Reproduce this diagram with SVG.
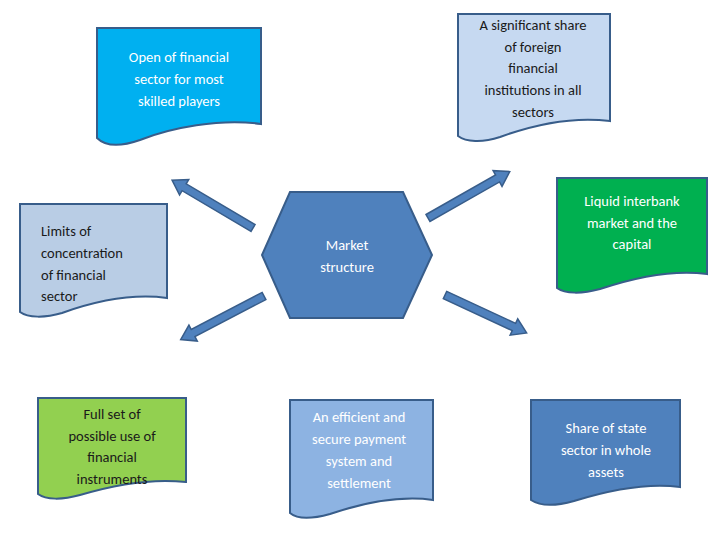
<svg xmlns="http://www.w3.org/2000/svg" width="720" height="540" viewBox="0 0 720 540">
<defs><style>
.d{stroke:#385d8a;stroke-width:2}
.t{font-family:Calibri,"Liberation Sans",sans-serif;font-size:14.5px;text-anchor:middle}
.w{fill:#fff}.k{fill:#1a1a1a}
.a{fill:#4f81bd;stroke:#385d8a;stroke-width:1.5}
</style></defs>
<rect width="720" height="540" fill="#fff"/>
<g id="n1"><path class="d" fill="#00b0f0" d="M97,28 H261 V124 C220,118 170,128 140,140 C120,147 105,146 97,138 Z"/>
<text class="t w" x="179" y="62">Open of financial</text><text class="t w" x="179" y="84">sector for most</text><text class="t w" x="179" y="106">skilled players</text></g>
<g id="n2"><path class="d" fill="#c6d9f1" d="M458,14 H610 V121 C570,116 530,126 500,137 C482,143 466,142 458,136 Z"/>
<text class="t k" x="533" y="30">A significant share</text><text class="t k" x="533" y="52">of foreign</text><text class="t k" x="533" y="73">financial</text><text class="t k" x="533" y="95">institutions in all</text><text class="t k" x="533" y="117">sectors</text></g>
<g id="n3"><path class="d" fill="#b9cde5" d="M20,204 H167 V298 C130,293 90,303 62,313 C45,318 28,318 20,312 Z"/>
<text class="t k" x="41" y="236" text-anchor="start" style="text-anchor:start">Limits of</text><text class="t k" x="41" y="258" style="text-anchor:start">concentration</text><text class="t k" x="41" y="280" style="text-anchor:start">of financial</text><text class="t k" x="41" y="301" style="text-anchor:start">sector</text></g>
<g id="n4"><path class="d" fill="#00b050" d="M557,178 H707 V274 C670,269 630,279 600,289 C582,294 565,294 557,288 Z"/>
<text class="t w" x="632" y="206">Liquid interbank</text><text class="t w" x="632" y="228">market and the</text><text class="t w" x="632" y="249">capital</text></g>
<g id="n5"><polygon class="d" fill="#4f81bd" points="290,192 403,192 432,255 403,318 290,318 262,255"/>
<text class="t w" x="347" y="250">Market</text><text class="t w" x="347" y="272">structure</text></g>
<g id="n6"><path class="d" fill="#92d050" d="M38,398 H186 V482 C150,478 110,486 80,495 C62,500 46,500 38,494 Z"/>
<text class="t k" x="112" y="419">Full set of</text><text class="t k" x="112" y="441">possible use of</text><text class="t k" x="112" y="462">financial</text><text class="t k" x="112" y="484">instruments</text></g>
<g id="n7"><path class="d" fill="#8db3e2" d="M290,400 H433 V500 C397,495 357,505 330,514 C312,519 297,519 290,513 Z"/>
<text class="t w" x="359" y="422">An efficient and</text><text class="t w" x="359" y="444">secure payment</text><text class="t w" x="359" y="466">system and</text><text class="t w" x="359" y="488">settlement</text></g>
<g id="n8"><path class="d" fill="#4f81bd" d="M531,400 H680 V487 C643,482 603,492 574,501 C556,506 540,506 531,500 Z"/>
<text class="t w" x="606" y="433">Share of state</text><text class="t w" x="606" y="455">sector in whole</text><text class="t w" x="606" y="477">assets</text></g>
<g id="connectors">
<polygon class="a" transform="translate(253,228) rotate(-149.4)" points="0,-4 80,-4 80,-9 94,0 80,9 80,4 0,4"/>
<polygon class="a" transform="translate(428,218) rotate(-29.6)" points="0,-4 80,-4 80,-9 94,0 80,9 80,4 0,4"/>
<polygon class="a" transform="translate(264,296) rotate(152.4)" points="0,-4 80,-4 80,-9 94,0 80,9 80,4 0,4"/>
<polygon class="a" transform="translate(445,295) rotate(24.9)" points="0,-4 76,-4 76,-9 90,0 76,9 76,4 0,4"/>
</g>
</svg>
